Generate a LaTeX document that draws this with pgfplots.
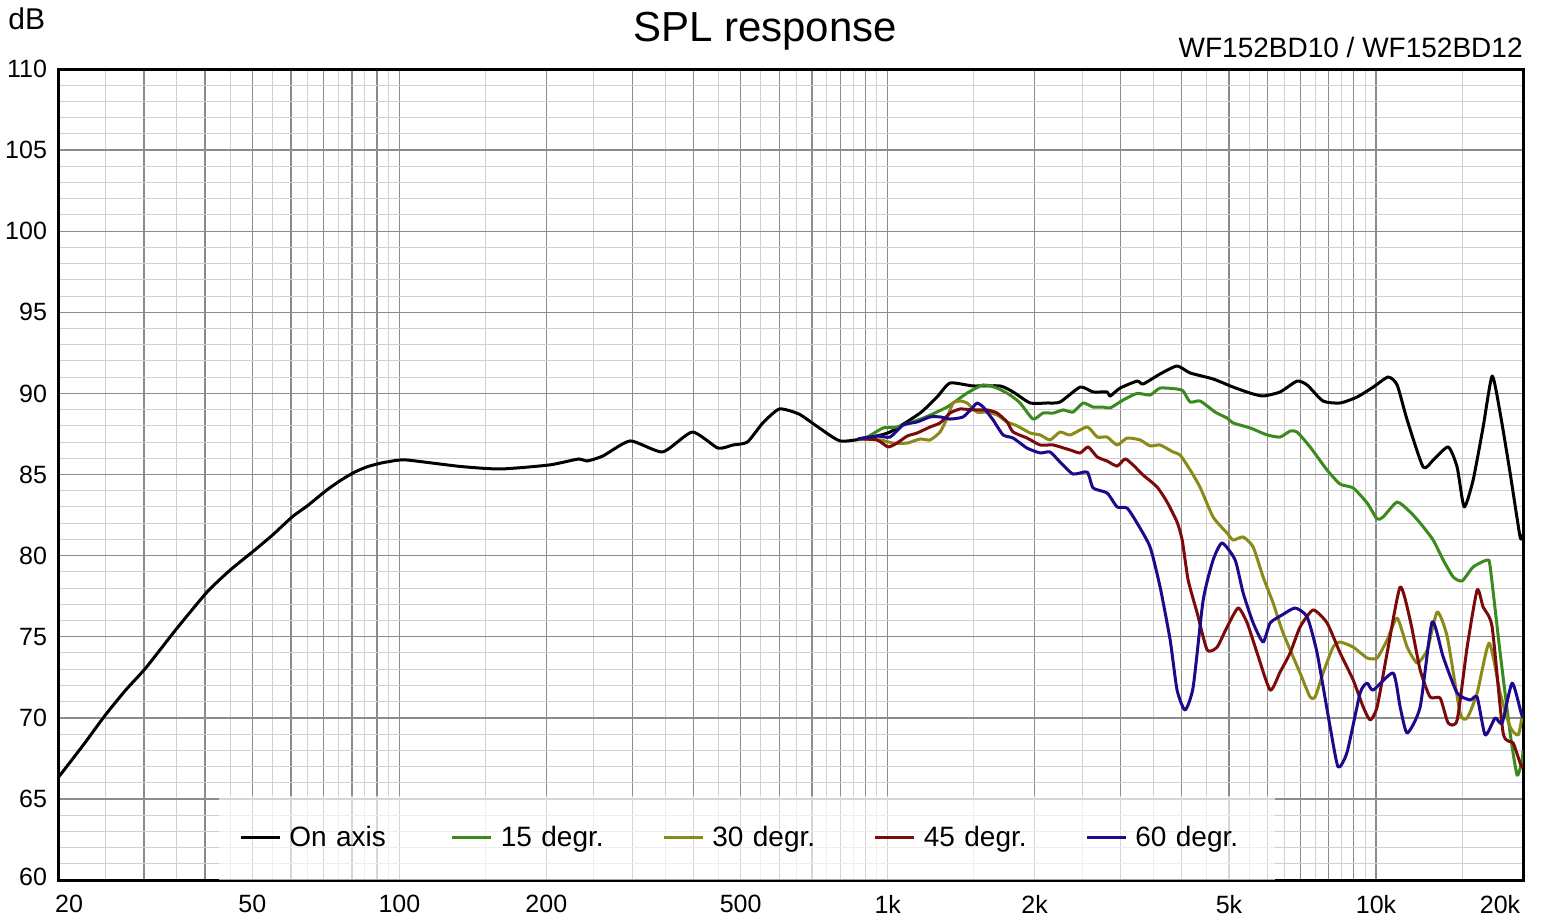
\documentclass[border=0pt]{standalone}
\usepackage{fontspec}
\setmainfont{Liberation Sans}
\usepackage{pgfplots}
\pgfplotsset{compat=1.18}

\definecolor{c0}{RGB}{0,0,0}
\definecolor{c15}{RGB}{58,138,30}
\definecolor{c30}{RGB}{138,138,24}
\definecolor{c45}{RGB}{125,10,10}
\definecolor{c60}{RGB}{30,8,140}
\definecolor{gdark}{RGB}{140,140,140}
\definecolor{glight}{RGB}{208,208,208}

\begin{document}
\begin{tikzpicture}
\useasboundingbox (-29pt,-19pt) rectangle (743.5pt,440pt);
\begin{axis}[
  scale only axis,
  width=732.5pt, height=405.5pt,
  xmode=log,
  xmin=20, xmax=20000,
  ymin=60, ymax=110,
  axis line style={line width=1.5pt},
  xtick={20,30,40,50,60,70,80,90,100,200,300,400,500,600,700,800,900,1000,2000,3000,4000,5000,6000,7000,8000,9000,10000,20000},
  xticklabels={\hspace*{11pt}20,,,50,,,,,100,200,,,500,,,,,1k,2k,,,5k,,,,,10k,20k\hspace*{23pt}},
  minor xtick={25,35,45,55,65,75,85,95,150,250,350,450,550,650,750,850,950,1500,2500,3500,4500,5500,6500,7500,8500,9500,15000},
  ytick={60,65,...,110},
  yticklabels={\raisebox{3.5pt}{60},65,70,75,80,85,90,95,100,105,110},
  minor y tick num=4,
  major tick length=0pt, minor tick length=0pt,
  grid=both,
  major grid style={gdark, line width=0.7pt},
  minor grid style={glight, line width=0.5pt},
  ticklabel style={font=\fontsize{12.5}{14}\selectfont},
  /pgf/number format/assume math mode=true,
  yticklabel style={xshift=-2pt},
  xticklabel style={yshift=-4pt},
  every axis plot/.append style={line width=1.5pt, line join=round, smooth, tension=0.35},
  legend columns=5,
  legend cell align=left,
  legend image code/.code={\draw[#1, line width=1.5pt] (0pt,0pt) -- (19.5pt,0pt);},
  legend style={
    at={(0.1099,0)}, anchor=south west,
    draw=none, fill=white, fill opacity=0.65, text opacity=1,
    inner xsep=10pt, inner ysep=13pt,
    font=\fontsize{14}{16}\selectfont,
    nodes={inner xsep=0pt, inner ysep=2pt, text width=60pt},
    /tikz/every odd column/.append style={column sep=4pt},
    /tikz/every even column/.append style={column sep=20.75pt},
  },
]
\addplot[c0] coordinates {
(20,66.3) (22.5,68.3) (25,70.17) (27.5,71.7) (30.3,73.1) (35,75.5) (40.4,77.76) (45,79.1)
(50.6,80.35) (55,81.27) (60.4,82.4) (65,83.1) (71,84.04) (76,84.66) (81,85.15) (86,85.48)
(91.5,85.7) (95,85.79) (103,85.9) (133,85.5) (161,85.34) (203,85.59)
(233,85.96) (242,85.83) (261,86.14) (297,87.07) (346,86.39) (398,87.62) (449,86.63)
(482,86.82) (516,87.0) (555,88.18) (600,89.04) (658,88.73) (715,87.99) (799,87.07)
(908,87.25) (1011,87.62) (1165,88.79) (1262,89.78) (1342,90.64) (1496,90.46)
(1699,90.46) (1806,90.09) (1958,89.41) (2120,89.41) (2254,89.47) (2478,90.39)
(2634,90.09) (2814,90.09) (2854,89.84) (2992,90.33) (3242,90.76) (3334,90.58)
(3613,91.2) (3914,91.69) (4162,91.26) (4638,90.89) (5097,90.39) (5523,90.02)
(5872,89.84) (6361,90.09) (6891,90.76) (7226,90.52) (7790,89.53) (8442,89.41)
(9148,89.78) (9866,90.39) (10586,91.01) (11046,90.52) (11580,88.36) (12487,85.46)
(13090,85.89) (14052,86.70) (14656,85.46) (15150,83.0) (15806,84.66) (16570,87.93)
(17288,91.07) (17954,88.79) (18820,85.09) (19730,81.15) (20000,81.3)
};
\addlegendentry{On axis}
\addplot[c15] coordinates {
(870,87.2) (908,87.31) (979,87.87) (1045,87.93) (1182,88.48) (1323,89.16) (1454,90.02)
(1569,90.52) (1675,90.33) (1781,89.9) (1867,89.41) (1985,88.42) (2080,88.79)
(2182,88.79) (2287,88.98) (2396,88.85) (2513,89.41) (2634,89.16) (2761,89.16)
(2854,89.1) (3034,89.59) (3242,90.0) (3446,89.9) (3613,90.33) (3914,90.27)
(4027,90.15) (4162,89.47) (4364,89.53) (4683,88.85) (4954,88.48) (5097,88.18)
(5523,87.87) (5984,87.44) (6361,87.31) (6670,87.68) (6891,87.62) (7328,86.7)
(7937,85.28) (8442,84.41) (8978,84.17) (9590,83.24) (10050,82.26) (10338,82.38)
(11046,83.3) (11744,82.69) (12312,82.01) (13090,80.96) (13726,79.73) (14388,78.68)
(15008,78.44) (15806,79.3) (16892,79.73) (17130,79.3) (17954,74.0) (18820,69.06)
(19448,66.47) (19912,67.4) (20000,68.0)
};
\addlegendentry{15 degr.}
\addplot[c30] coordinates {
(870,87.2) (965,87.13) (1026,86.94) (1096,86.94) (1165,87.19) (1221,87.13) (1280,87.62)
(1323,88.48) (1361,89.41) (1407,89.53) (1454,89.41) (1524,88.85) (1598,88.85)
(1675,88.67) (1756,88.24) (1841,88.0) (1958,87.56) (2052,87.44) (2150,87.13)
(2254,87.62) (2364,87.44) (2562,87.93) (2686,87.31) (2814,87.31) (2950,86.82)
(3092,87.25) (3288,87.13) (3446,86.76) (3613,86.82) (3840,86.39) (3971,86.2)
(4162,85.28) (4364,84.2) (4638,82.38) (4954,81.39) (5097,80.96) (5344,81.15)
(5602,80.53) (5872,78.68) (6155,77.08) (6452,75.23) (6990,72.76) (7328,71.28)
(7504,71.28) (7790,72.76) (8167,74.36) (8442,74.67) (8978,74.36) (9590,73.69)
(10050,73.69) (10537,74.8) (11046,76.15) (11580,74.36) (12138,73.38) (12726,74.18)
(13342,76.52) (13986,75.0) (14866,70.3) (15366,69.99) (16108,71.53) (17050,74.61)
(17954,71.53) (18820,69.43) (19544,68.94) (19912,70.05) (20000,70.3)
};
\addlegendentry{30 degr.}
\addplot[c45] coordinates {
(870,87.2) (951,87.13) (1002,86.7) (1045,86.94) (1096,87.37) (1149,87.56) (1221,87.93)
(1280,88.18) (1342,88.79) (1407,89.04) (1496,88.98) (1598,88.98) (1675,88.79)
(1756,88.24) (1806,87.62) (1929,87.25) (2052,86.82) (2182,86.82) (2364,86.51)
(2478,86.33) (2573,86.7) (2686,86.08) (2814,85.83) (2950,85.52) (3063,85.96)
(3180,85.59) (3334,84.97) (3562,84.23) (3734,83.3) (3914,82.07) (4009,80.96)
(4123,78.5) (4302,76.46) (4510,74.18) (4727,74.36) (4954,75.6) (5220,76.77)
(5446,75.85) (5708,74.0) (6070,71.71) (6361,72.82) (6670,74.0) (6990,75.6)
(7434,76.65) (7937,75.85) (8442,74.0) (8978,72.33) (9413,70.67) (9728,69.86)
(10050,70.67) (10537,74.0) (11202,78.06) (11744,76.03) (12312,72.95) (12906,71.28)
(13530,71.22) (14052,69.68) (14656,69.86) (15366,74.36) (16108,77.88) (16570,76.83)
(17288,75.6) (18210,69.06) (19086,68.45) (19730,67.21) (20000,66.9)
};
\addlegendentry{45 degr.}
\addplot[c60] coordinates {
(870,87.2) (951,87.37) (1011,87.31) (1075,88.05) (1149,88.24) (1221,88.55) (1280,88.55)
(1342,88.42) (1427,88.55) (1496,89.16) (1524,89.41) (1569,89.16) (1644,88.36)
(1723,87.44) (1806,87.25) (1929,86.63) (2052,86.33) (2150,86.39) (2254,85.77)
(2396,85.03) (2562,85.15) (2634,84.17) (2814,83.86) (2950,83.0) (3092,82.93)
(3242,82.0) (3446,80.53) (3613,78.06) (3788,74.8) (3914,71.71) (4064,70.48)
(4222,71.9) (4426,77.26) (4638,79.73) (4840,80.78) (5146,79.73) (5344,77.7)
(5602,75.85) (5872,74.67) (6070,75.85) (6422,76.34) (6830,76.77) (7226,76.22)
(7574,74.0) (8054,69.43) (8362,66.97) (8726,67.89) (9277,71.53) (9590,72.14)
(9866,71.71) (10840,72.76) (11202,70.67) (11580,69.06) (12312,70.67) (13026,75.91)
(13726,73.75) (14656,71.53) (15586,71.1) (16108,71.28) (16730,68.94) (17538,69.99)
(18124,69.68) (18999,72.14) (19822,70.3) (20000,70.0)
};
\addlegendentry{60 degr.}
\end{axis}
\node[anchor=base, inner sep=0pt, font=\fontsize{21}{24}\selectfont] at (353.5pt,419pt) {SPL response};
\node[anchor=base west, inner sep=0pt, font=\fontsize{15}{17}\selectfont] at (-25pt,425pt) {dB};
\node[anchor=base east, inner sep=0pt, font=\fontsize{14}{16}\selectfont] at (732.5pt,411pt) {WF152BD10 / WF152BD12};
\end{tikzpicture}
\end{document}
